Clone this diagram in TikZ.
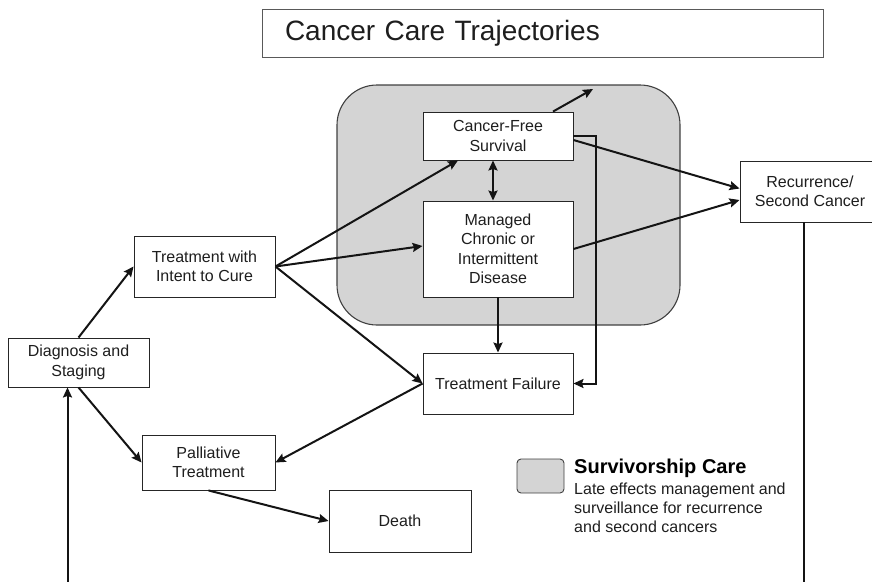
\documentclass[tikz,border=0pt]{standalone}
\usepackage{fontspec}
\setmainfont{Liberation Sans}
\usetikzlibrary{arrows.meta,positioning,calc}

\definecolor{survgray}{RGB}{212,212,212}
\definecolor{inkgray}{RGB}{30,30,30}

\tikzset{
  box/.style={draw=black!85, line width=0.9pt, fill=white, align=center,
    inner sep=0pt, text=inkgray, font=\fontsize{16}{19.5}\selectfont},
  flow/.style={line width=2pt, draw=black!92, -{Stealth[length=10pt,width=9pt,inset=1.5pt]}},
  survregion/.style={draw=black!75, line width=1.1pt, fill=survgray, rounded corners=40pt},
}

\begin{document}
\begin{tikzpicture}[x=1pt,y=-1pt]
\useasboundingbox (0,0) rectangle (872,581);

% heading
\node[draw=black!65, line width=0.9pt, text width=515pt, inner xsep=23pt,
  minimum height=48pt, align=left, text=inkgray,
  font=\fontsize{28}{32}\selectfont] (title) at (542.5,33) {Cancer Care Trajectories};

% survivorship care region
\node[survregion, minimum width=343pt, minimum height=240pt] (surv) at (508.5,205) {};

% states
\node[box, minimum width=150pt, minimum height=48pt] (cfs) at (498,136) {Cancer-Free\\Survival};
\node[box, minimum width=150pt, minimum height=96pt] (mcd) at (498,249) {Managed\\Chronic or\\Intermittent\\Disease};
\node[box, minimum width=140pt, minimum height=61pt] (rsc) at (810,191.5) {Recurrence/\\Second Cancer};
\node[box, minimum width=141pt, minimum height=61pt] (twic) at (204.5,266.5) {Treatment with\\Intent to Cure};
\node[box, minimum width=141pt, minimum height=49pt] (dxs) at (78.5,362.5) {Diagnosis and\\Staging};
\node[box, minimum width=150pt, minimum height=61pt] (tf) at (498,383.5) {Treatment Failure};
\node[box, minimum width=133pt, minimum height=55pt] (pal) at (208.5,462.5) {Palliative\\Treatment};
\node[box, minimum width=142pt, minimum height=62pt] (death) at (400,521) {Death};

% legend
\node[survregion, rounded corners=4pt, line width=0.9pt, minimum width=47pt, minimum height=34pt] (legkey) at (540.5,476) {};
\node[anchor=base west, inner sep=0pt, text=black, font=\bfseries\fontsize{20}{24}\selectfont] (legtitle) at (574,473) {Survivorship Care};
\node[anchor=north west, inner sep=0pt, align=left, text=inkgray, font=\fontsize{16}{19}\selectfont] (legtext) at (574,483) {Late effects management and\\surveillance for recurrence\\and second cancers};

% transitions
\coordinate (cfsout) at (593,89);
\draw[flow] (dxs.north) -- (twic.west);
\draw[flow] (dxs.south) -- (pal.west);
\draw[flow] (twic.east) -- ($(cfs.south)+(-40,0)$);
\draw[flow] (twic.east) -- ($(mcd.west)+(0,-3)$);
\draw[flow] (twic.east) -- (tf.west);
\draw[flow, {Stealth[length=10pt,width=9pt,inset=1.5pt]}-{Stealth[length=10pt,width=9pt,inset=1.5pt]}]
  ($(cfs.south)+(-5,0)$) -- ($(mcd.north)+(-5,0)$);
\draw[flow] ($(cfs.north)+(55,0)$) -- (cfsout);
\draw[flow] (mcd.south) -- (tf.north);
\draw[flow] (cfs.east) -- ++(23,0) |- (tf.east);
\draw[flow] ($(cfs.east)+(0,4)$) -- ($(rsc.west)+(0,-3)$);
\draw[flow] (mcd.east) -- ($(rsc.west)+(0,8.5)$);
\draw[flow] (tf.west) -- (pal.east);
\draw[flow] (pal.south) -- (death.west);
% back to diagnosis, the turn lies below the page
\draw[flow] ($(rsc.south)+(-6,0)$) -- ++(0,400) -| ($(dxs.south)+(-11,0)$);
\end{tikzpicture}
\end{document}
